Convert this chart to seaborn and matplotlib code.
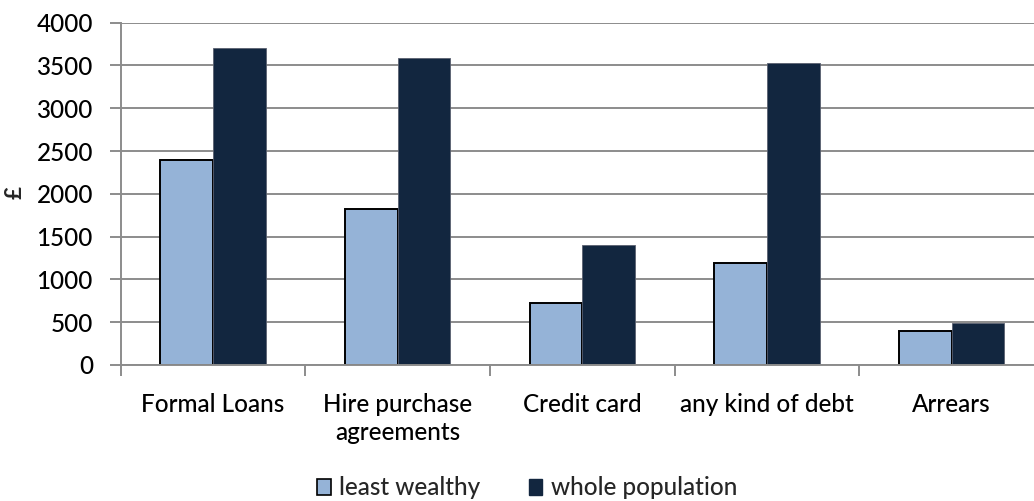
import matplotlib
matplotlib.use("Agg")
import matplotlib.pyplot as plt
from matplotlib.patches import Patch
import pandas as pd
import seaborn as sns

# values (GBP)
categories = ["Formal Loans", "Hire purchase\nagreements", "Credit card", "any kind of debt", "Arrears"]
least_wealthy = [2400, 1820, 720, 1190, 400]
whole_population = [3700, 3585, 1400, 3530, 495]
series_names = ["least wealthy", "whole population"]
colors = ["#95B3D7", "#12263F"]

df = pd.DataFrame({
    "category": categories * 2,
    "value": least_wealthy + whole_population,
    "group": [series_names[0]] * len(categories) + [series_names[1]] * len(categories),
})

sns.set_theme(style="white")
plt.rcParams["font.family"] = ["Lato", "DejaVu Sans"]
plt.rcParams["font.weight"] = "medium"

fig = plt.figure(figsize=(10.34, 5.01), dpi=100)
ax = fig.add_axes([0.1167, 0.2715, 0.893, 0.6832])

sns.barplot(data=df, x="category", y="value", hue="group", order=categories,
            hue_order=series_names, palette=colors, width=0.57, saturation=1,
            ax=ax, legend=False)

# bar outlines
for bar in ax.containers[0]:
    bar.set_edgecolor("black")
    bar.set_linewidth(1.4)
for bar in ax.containers[1]:
    bar.set_edgecolor("#5a6070")
    bar.set_linewidth(0.6)

ax.set_xlim(-0.5, 4.5)
ax.set_ylim(0, 4000)
ax.set_yticks(range(0, 4001, 500))
ax.yaxis.grid(True, color="#8c8c8c", linewidth=1.4)
ax.set_axisbelow(True)

for side in ["top", "right"]:
    ax.spines[side].set_visible(False)
for side in ["left", "bottom"]:
    ax.spines[side].set_color("#8c8c8c")
    ax.spines[side].set_linewidth(1.4)

ax.tick_params(axis="y", which="major", length=8, width=1.4, color="#8c8c8c",
               direction="out", pad=12, labelsize=17.5, labelcolor="black", left=True)
ax.tick_params(axis="x", which="major", length=0, pad=20, labelsize=17.5, labelcolor="black")
for lab in ax.get_xticklabels():
    lab.set_linespacing(1.3)
ax.set_xticks([i - 0.5 for i in range(len(categories))], minor=True)
ax.tick_params(axis="x", which="minor", length=8, width=1.4, color="#8c8c8c",
               direction="out", bottom=True)

ax.set_xlabel("")
ax.set_ylabel("")
fig.text(15 / 1034, 1 - 193 / 501, "£", rotation=90, ha="center", va="center",
         fontsize=16, fontweight="bold")

handles = [Patch(facecolor=colors[0], edgecolor="black", linewidth=1.2),
           Patch(facecolor=colors[1], edgecolor=colors[1])]
fig.legend(handles, series_names, loc="center", bbox_to_anchor=(0.51, 0.026), ncol=2,
           frameon=False, fontsize=17.5, handlelength=0.55, handleheight=0.6,
           handletextpad=0.35, columnspacing=2.0)

fig.savefig("out.png", dpi=100)
